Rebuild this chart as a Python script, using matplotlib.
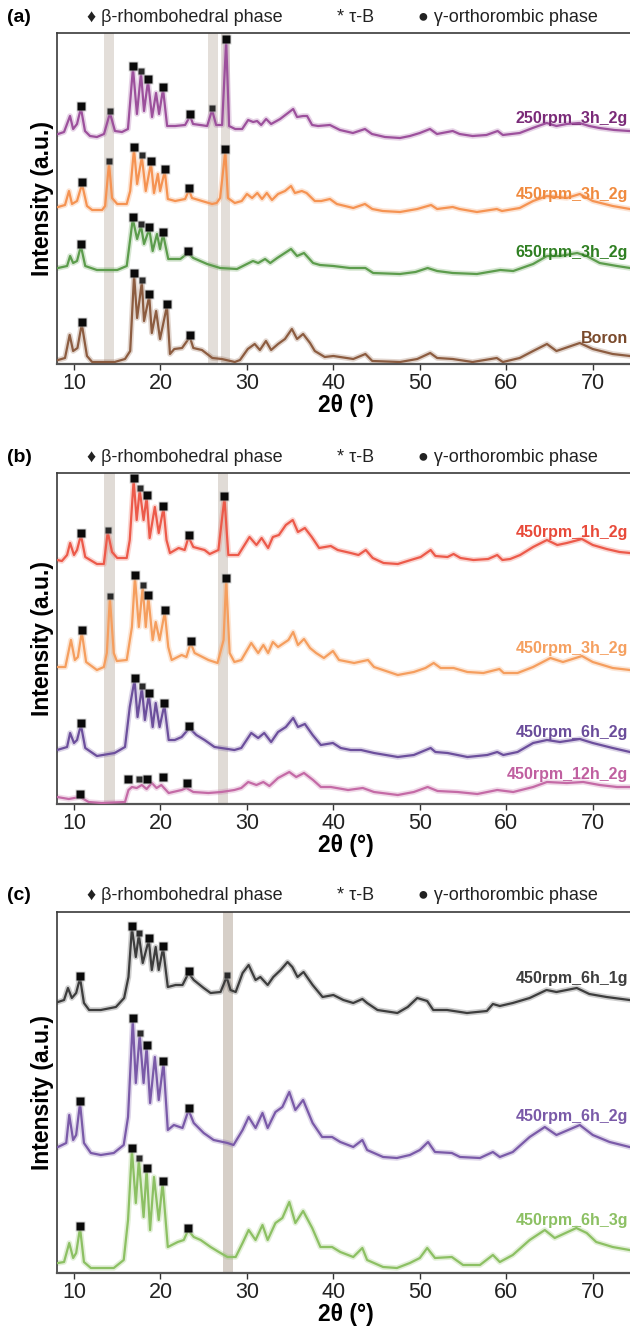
import numpy as np
import matplotlib.pyplot as plt

plt.rcParams['font.family'] = ['Liberation Sans', 'DejaVu Sans']

# ---- panel (a): milling speed series, (2theta, intensity) ----
a_250rpm = [(8.15, 4), (8.85, 6), (9.54, 22), (9.9, 9), (10.35, 14), (10.8, 30), (11.27, 7), (11.85, 2),
            (12.65, 1), (13.47, 4), (14.16, 25), (14.74, 7), (15.55, 6), (16.24, 9), (16.82, 70), (17.28, 24),
            (17.75, 65), (18.1, 27), (18.56, 57), (19.03, 21), (19.49, 45), (19.84, 24), (20.3, 49), (20.77, 12),
            (21.7, 12), (22.85, 13), (23.43, 22), (23.77, 14), (24.6, 13), (25.4, 12), (25.97, 28), (26.44, 13),
            (27.13, 13), (27.6, 97), (27.94, 12), (28.64, 9), (29.45, 9), (30.14, 18), (30.72, 16), (31.18, 17),
            (31.65, 13), (32.22, 19), (32.8, 14), (33.84, 19), (35.35, 29), (35.8, 21), (36.5, 22), (36.96, 22),
            (37.54, 13), (38.23, 12), (39.6, 13), (40.76, 8), (42.26, 5), (43.65, 9), (44.46, 4), (45.96, 1),
            (47.7, 0), (48.85, 2), (50.0, 5), (51.17, 9), (51.98, 4), (53.8, 7), (54.6, 4), (56.1, 2), (57.7, 3),
            (59.0, 7), (59.6, 3), (61.55, 5), (63.05, 10), (64.67, 15), (65.8, 12), (66.96, 14), (68.46, 15),
            (69.6, 12), (70.76, 10), (72.5, 8), (74.2, 7), (75, 7)]
a_450rpm = [(8.15, 6), (8.96, 8), (9.42, 22), (9.77, 9), (10.35, 12), (10.93, 29), (11.5, 7), (12.1, 3),
            (13.25, 3), (13.6, 7), (14.05, 50), (14.4, 15), (15.0, 9), (16.1, 9), (16.5, 22), (16.94, 64),
            (17.3, 29), (17.85, 56), (18.3, 22), (18.9, 50), (19.25, 20), (19.7, 39), (19.96, 22), (20.5, 42),
            (20.85, 14), (21.7, 12), (22.85, 14), (23.3, 23), (23.65, 15), (24.8, 12), (25.97, 9), (26.5, 10),
            (26.9, 15), (27.5, 62), (27.8, 15), (28.6, 10), (29.4, 12), (30.0, 19), (30.6, 15), (31.2, 20),
            (31.75, 14), (32.3, 20), (32.9, 13), (33.6, 19), (34.4, 22), (35.1, 27), (35.55, 20), (36.35, 22),
            (36.9, 20), (37.85, 12), (38.6, 12), (39.6, 14), (40.4, 9), (42.3, 5), (43.65, 9), (44.5, 4),
            (45.7, 2), (47.7, 1), (49.7, 4), (51.3, 8), (52.0, 4), (53.8, 6), (54.6, 4), (56.6, 1), (58.9, 4),
            (59.5, 2), (61.55, 5), (63.1, 12), (64.7, 17), (67.0, 15), (68.5, 19), (70.0, 12), (72.3, 7),
            (74.3, 4), (75, 4)]
a_650rpm = [(8.15, 6), (9.2, 8), (9.55, 18), (9.9, 11), (10.35, 13), (10.8, 28), (11.3, 8), (12.65, 4),
            (15.0, 4), (16.1, 8), (16.8, 55), (17.3, 35), (17.75, 48), (18.1, 30), (18.7, 45), (19.1, 23),
            (19.6, 40), (19.95, 25), (20.3, 40), (20.9, 15), (22.3, 15), (23.2, 21), (23.8, 16), (25.4, 10),
            (26.9, 6), (28.85, 5), (30.0, 10), (30.7, 13), (31.3, 11), (32.1, 15), (32.7, 11), (33.5, 16),
            (35.1, 25), (35.8, 18), (36.6, 21), (37.65, 11), (38.45, 9), (40.0, 8), (41.9, 6), (43.7, 6),
            (44.6, 1), (47.7, 0), (49.5, 2), (50.9, 6), (52.0, 3), (53.8, 1), (56.6, 0), (59.3, 4), (60.8, 3),
            (63.1, 10), (64.7, 18), (66.2, 18), (68.2, 21), (69.3, 18), (70.8, 11), (72.8, 8), (74.3, 6), (75, 6)]
a_boron = [(8.15, 2), (8.96, 4), (9.5, 27), (9.9, 11), (10.4, 14), (10.9, 38), (11.5, 6), (12.1, 0),
           (13.6, 0), (14.7, 0), (15.9, 3), (16.5, 11), (16.95, 87), (17.3, 44), (17.85, 80), (18.1, 41),
           (18.7, 66), (19.0, 29), (19.5, 51), (19.95, 23), (20.75, 56), (21.1, 8), (21.6, 13), (22.5, 14),
           (23.4, 25), (23.8, 14), (24.8, 12), (26.0, 4), (27.1, 3), (28.6, 0), (29.2, 2), (30.1, 13),
           (30.9, 18), (31.5, 12), (32.2, 21), (32.8, 12), (33.6, 18), (34.4, 23), (35.2, 33), (35.8, 23),
           (36.5, 28), (37.3, 19), (37.85, 11), (39.0, 5), (40.0, 6), (42.3, 3), (43.7, 8), (44.5, 1),
           (47.7, 0), (49.7, 3), (51.2, 9), (52.0, 4), (53.8, 3), (56.1, 0), (58.9, 4), (59.6, 0), (61.55, 4),
           (63.1, 11), (64.7, 18), (65.8, 11), (68.5, 19), (70.0, 13), (72.3, 8), (74.3, 6), (75, 6)]

# ---- panel (b): milling time series ----
b_1h = [(8.04, 4), (8.6, 3), (9.2, 9), (9.55, 21), (10.0, 9), (10.35, 14), (10.8, 29), (11.3, 7), (12.65, 0),
        (13.45, 0), (13.9, 32), (14.4, 12), (15.0, 6), (16.1, 6), (16.45, 24), (16.9, 84), (17.25, 44),
        (17.6, 74), (18.05, 44), (18.4, 67), (18.75, 26), (19.35, 57), (19.8, 31), (20.35, 56), (20.7, 24),
        (21.1, 11), (22.1, 16), (22.8, 14), (23.25, 27), (23.8, 17), (25.1, 14), (25.7, 10), (26.7, 14),
        (27.4, 66), (27.85, 9), (29.0, 9), (30.3, 27), (31.1, 19), (31.7, 26), (32.45, 16), (33.0, 27),
        (33.7, 29), (34.5, 39), (35.3, 44), (35.9, 32), (36.7, 36), (37.5, 27), (38.35, 16), (39.7, 18),
        (40.5, 14), (42.0, 11), (42.9, 9), (43.75, 14), (44.55, 6), (45.8, 1), (47.45, 0), (48.95, 4),
        (50.1, 7), (51.25, 14), (51.8, 8), (53.2, 7), (53.9, 10), (54.7, 6), (56.2, 4), (57.9, 5), (58.95, 9),
        (59.55, 4), (60.45, 5), (61.6, 9), (63.1, 17), (64.7, 24), (65.9, 19), (67.0, 21), (68.75, 25),
        (70.0, 19), (71.6, 15), (73.1, 12), (74.3, 11), (75, 11)]
b_3h = [(8.04, 8), (9.0, 8), (9.65, 35), (10.1, 15), (10.45, 18), (10.9, 43), (11.4, 13), (12.65, 5),
        (13.45, 8), (13.8, 22), (14.15, 77), (14.6, 22), (14.95, 14), (16.1, 15), (16.7, 48), (17.05, 98),
        (17.5, 48), (17.95, 88), (18.3, 48), (18.6, 78), (19.1, 35), (19.45, 53), (19.9, 35), (20.5, 63),
        (20.9, 28), (21.3, 15), (22.45, 20), (23.0, 18), (23.5, 32), (23.95, 22), (25.55, 15), (26.6, 12),
        (27.3, 35), (27.6, 95), (28.0, 22), (28.55, 13), (29.35, 15), (30.5, 32), (31.3, 22), (31.9, 30),
        (32.45, 22), (33.0, 33), (33.6, 28), (34.8, 35), (35.35, 43), (35.9, 30), (36.6, 36), (37.3, 27),
        (38.0, 22), (38.9, 17), (39.95, 24), (40.65, 15), (42.4, 12), (44.0, 15), (44.7, 8), (47.45, 0),
        (49.3, 3), (50.65, 7), (51.6, 12), (52.4, 7), (53.9, 7), (55.5, 3), (57.35, 2), (59.2, 6), (59.7, 2),
        (61.3, 2), (63.1, 8), (65.1, 17), (66.55, 13), (68.75, 19), (70.0, 13), (72.3, 7), (74.3, 5), (75, 5)]
b_6h = [(8.04, 7), (9.2, 10), (9.55, 24), (10.0, 14), (10.35, 17), (10.8, 32), (11.3, 9), (12.65, 1),
        (14.7, 4), (15.9, 10), (16.45, 50), (17.0, 77), (17.35, 40), (17.85, 69), (18.2, 37), (18.65, 62),
        (19.1, 30), (19.45, 54), (19.9, 30), (20.45, 52), (20.95, 17), (21.65, 17), (22.45, 20), (23.35, 29),
        (24.15, 22), (25.1, 17), (26.25, 10), (28.55, 7), (29.35, 9), (30.5, 24), (31.3, 19), (32.0, 24),
        (32.8, 15), (33.6, 25), (34.5, 30), (35.35, 39), (35.9, 30), (36.7, 33), (37.6, 22), (38.55, 12),
        (39.95, 14), (40.85, 9), (42.0, 7), (43.2, 7), (44.7, 4), (47.45, 0), (49.3, 2), (51.25, 9),
        (51.8, 5), (53.2, 4), (55.5, 0), (57.8, 2), (58.95, 5), (59.65, 2), (61.3, 5), (63.1, 14), (64.7, 17),
        (66.2, 15), (68.5, 18), (70.0, 14), (72.3, 9), (74.3, 5), (75, 5)]
b_12h = [(8.04, 6), (9.4, 4), (10.7, 6), (11.7, 1), (13.2, 0), (15.9, 1), (16.3, 13), (16.7, 16),
         (17.25, 15), (17.85, 18), (18.4, 14), (19.0, 20), (19.55, 15), (20.1, 18), (20.95, 10), (22.45, 13),
         (23.0, 15), (23.8, 11), (25.55, 10), (27.05, 11), (28.55, 13), (29.35, 15), (30.15, 21), (31.1, 18),
         (31.9, 21), (32.6, 17), (33.6, 25), (34.9, 31), (35.7, 26), (36.6, 30), (37.65, 23), (38.55, 16),
         (39.7, 16), (41.7, 13), (43.4, 15), (44.7, 11), (47.45, 8), (49.3, 11), (50.9, 16), (52.05, 12),
         (54.35, 11), (56.65, 9), (58.95, 13), (60.8, 11), (63.1, 16), (64.7, 21), (67.0, 20), (68.9, 21),
         (70.8, 18), (72.8, 16), (74.3, 16), (75, 16)]

# ---- panel (c): sample mass series ----
c_1g = [(8.15, 11), (8.85, 13), (9.3, 25), (9.75, 15), (10.25, 20), (10.7, 35), (11.15, 10), (11.75, 3),
        (13.1, 3), (14.85, 6), (15.8, 15), (16.3, 36), (16.7, 85), (17.15, 56), (17.5, 78), (17.95, 50),
        (18.65, 73), (19.0, 43), (19.45, 66), (19.8, 43), (20.3, 65), (20.85, 26), (21.75, 28), (22.55, 28),
        (23.25, 40), (23.85, 33), (25.0, 25), (25.8, 20), (26.95, 21), (27.65, 36), (28.1, 23), (28.7, 21),
        (29.5, 40), (30.2, 48), (31.0, 33), (31.55, 36), (32.4, 28), (33.05, 36), (33.9, 43), (34.7, 51),
        (35.25, 46), (35.85, 36), (36.55, 41), (37.6, 28), (38.75, 16), (40.0, 18), (41.15, 13), (42.3, 10),
        (43.35, 14), (43.9, 10), (45.1, 3), (47.4, 0), (48.6, 6), (49.7, 15), (50.85, 12), (51.55, 3),
        (53.15, 3), (55.45, 0), (57.75, 2), (58.45, 9), (59.25, 7), (60.75, 10), (62.7, 15), (64.65, 23),
        (65.8, 21), (68.15, 25), (69.6, 19), (71.6, 16), (74.25, 13), (75, 13)]
c_2g = [(8.15, 11), (9.1, 15), (9.45, 43), (9.9, 18), (10.25, 23), (10.7, 55), (11.15, 15), (11.95, 5),
        (13.1, 3), (14.6, 5), (15.75, 13), (16.25, 41), (16.8, 138), (17.15, 75), (17.6, 123), (18.05, 75),
        (18.4, 111), (18.8, 55), (19.35, 101), (19.8, 58), (20.35, 95), (20.85, 28), (21.55, 33), (22.55, 30),
        (23.25, 48), (23.85, 35), (25.0, 25), (26.15, 18), (27.75, 15), (28.45, 13), (29.5, 28), (30.2, 41),
        (31.0, 30), (31.8, 45), (32.4, 30), (33.3, 46), (34.1, 51), (34.9, 66), (35.6, 48), (36.5, 58),
        (37.6, 35), (38.7, 21), (39.85, 21), (40.8, 16), (42.3, 11), (43.35, 18), (43.9, 8), (45.75, 1),
        (47.35, 0), (48.85, 3), (50.0, 8), (50.95, 16), (51.75, 6), (53.7, 5), (54.65, 1), (56.95, 0),
        (58.45, 6), (59.25, 1), (60.75, 6), (62.7, 21), (64.45, 31), (65.8, 23), (68.5, 33), (70.0, 23),
        (71.95, 16), (74.25, 11), (75, 11)]
c_3g = [(8.15, 5), (8.85, 6), (9.45, 25), (9.9, 10), (10.25, 15), (10.7, 40), (11.15, 6), (11.95, 0),
        (13.1, 0), (14.6, 0), (15.75, 8), (16.25, 48), (16.7, 118), (17.15, 65), (17.5, 108), (18.05, 51),
        (18.4, 98), (18.8, 38), (19.25, 91), (19.8, 48), (20.25, 85), (20.85, 21), (22.0, 26), (22.7, 28),
        (23.2, 38), (23.85, 31), (24.65, 28), (25.8, 21), (26.75, 16), (27.75, 11), (28.7, 11), (29.5, 25),
        (30.2, 38), (31.0, 28), (31.8, 43), (32.4, 28), (33.3, 45), (34.1, 50), (34.9, 66), (35.6, 45),
        (36.5, 57), (37.55, 40), (38.5, 21), (39.85, 21), (40.8, 16), (42.3, 11), (43.35, 20), (43.9, 8),
        (45.75, 1), (47.35, 0), (48.85, 5), (50.0, 10), (50.85, 20), (51.75, 10), (53.7, 11), (55.0, 3),
        (56.95, 3), (58.45, 13), (59.25, 6), (60.75, 13), (62.7, 28), (64.45, 38), (65.6, 30), (68.1, 40),
        (69.3, 35), (70.4, 26), (72.3, 21), (74.25, 18), (75, 18)]

# phase markers: main peaks and smaller tau-B peaks (2theta, intensity)
mk_a_250 = [(10.8, 30), (16.82, 70), (18.56, 57), (20.3, 49), (23.43, 22), (27.6, 97)]
sm_a_250 = [(14.16, 25), (17.75, 65), (25.97, 28)]
mk_a_450 = [(10.93, 29), (16.94, 64), (18.9, 50), (20.5, 42), (23.3, 23), (27.5, 62)]
sm_a_450 = [(14.05, 50), (17.85, 56)]
mk_a_650 = [(10.8, 28), (16.8, 55), (18.7, 45), (20.3, 40), (23.2, 21)]
sm_a_650 = [(17.75, 48)]
mk_a_boron = [(10.9, 38), (16.95, 87), (18.7, 66), (20.75, 56), (23.4, 25)]
sm_a_boron = [(17.85, 80)]
mk_b_1h = [(10.8, 29), (16.9, 84), (18.4, 67), (20.35, 56), (23.25, 27), (27.4, 66)]
sm_b_1h = [(13.9, 32), (17.6, 74)]
mk_b_3h = [(10.9, 43), (17.05, 98), (18.6, 78), (20.5, 63), (23.5, 32), (27.6, 95)]
sm_b_3h = [(14.15, 77), (17.95, 88)]
mk_b_6h = [(10.8, 32), (17.0, 77), (18.65, 62), (20.45, 52), (23.35, 29)]
sm_b_6h = [(17.85, 69)]
mk_b_12h = [(10.7, 7), (16.2, 22), (18.5, 22), (20.25, 24), (23.1, 18)]
sm_b_12h = [(17.5, 22)]
mk_c_1g = [(10.7, 35), (16.7, 85), (18.65, 73), (20.3, 65), (23.25, 40)]
sm_c_1g = [(17.5, 78), (27.65, 36)]
mk_c_2g = [(10.7, 55), (16.8, 138), (18.4, 111), (20.35, 95), (23.25, 48)]
sm_c_2g = [(17.6, 123)]
mk_c_3g = [(10.7, 40), (16.7, 118), (18.4, 98), (20.25, 85), (23.2, 38)]
sm_c_3g = [(17.5, 108)]

# shaded 2theta ranges
bands_a = [(13.5, 14.6), (25.5, 26.6), (27.0, 28.1)]
bands_b = [(13.45, 14.7), (26.7, 27.85)]
bands_c = [(27.2, 28.4)]

W, H = 630, 1329
fig = plt.figure(figsize=(W / 100, H / 100), dpi=100)


def make_panel(top, bottom, tag, bands, band_color):
    ax = fig.add_axes([56.7 / W, 1 - bottom / H, (636 - 56.7) / W, (bottom - top) / H])
    ax.set_xlim(8, 75)
    ax.set_ylim(0, bottom - top)
    for lo, hi in bands:
        ax.axvspan(lo, hi, color=band_color, lw=0, zorder=0)
    ax.spines['right'].set_visible(False)
    for s in ['left', 'top']:
        ax.spines[s].set_color('#3a3a3a')
        ax.spines[s].set_linewidth(1.2)
    ax.spines['bottom'].set_color('#555555')
    ax.spines['bottom'].set_linewidth(1.6)
    ax.set_yticks([])
    ax.set_xticks(range(10, 71, 10))
    ax.tick_params(axis='x', direction='out', length=4.5, width=1, color='#333333',
                   labelsize=15.5, labelcolor='#222222', pad=2)
    ax.set_xlabel('2θ (°)', fontsize=16.5, fontweight='bold', labelpad=0)
    ax.set_ylabel('Intensity (a.u.)', fontsize=16.5, fontweight='bold', labelpad=2)
    # header: panel tag and phase key
    yh = 1 - (top - 16) / H
    fig.text(7 / W, yh, tag, fontsize=14, fontweight='bold', va='center')
    fig.text(87 / W, yh, '♦ β-rhombohedral phase', fontsize=13, va='center', color='#222222')
    fig.text(337 / W, yh, '* τ-B', fontsize=13, va='center', color='#222222')
    fig.text(418 / W, yh, '● γ-orthorombic phase', fontsize=13, va='center', color='#222222')
    return ax


def draw_curve(ax, pts, offset, color, main, small, label, label_y, label_color):
    x, y = np.array(pts, dtype=float).T
    y = y + offset
    ax.plot(x, y, color=color, lw=4.0, alpha=0.25, solid_joinstyle='round', zorder=2)
    ax.plot(x, y, color=color, lw=1.6, solid_joinstyle='round', zorder=3)
    if main:
        mx, my = np.array(main, dtype=float).T
        ax.plot(mx, my + offset + 2, 's', ms=7.5, color='#b0b0b0', alpha=0.5, mec='none', zorder=4)
        ax.plot(mx, my + offset + 2, 's', ms=5.5, color='#0a0a0a', mec='none', zorder=5)
    if small:
        sx, sy = np.array(small, dtype=float).T
        ax.plot(sx, sy + offset + 2, 's', ms=6, color='#b0b0b0', alpha=0.5, mec='none', zorder=4)
        ax.plot(sx, sy + offset + 2, 's', ms=4, color='#2a2a2a', mec='none', zorder=5)
    ax.text(74.1, label_y, label, ha='right', va='center', fontsize=11.5,
            fontweight='bold', color=label_color, zorder=6)


# panel (a)
ax_a = make_panel(33, 364, '(a)', bands_a, '#e3ded9')
draw_curve(ax_a, a_250rpm, 226, '#9c509c', mk_a_250, sm_a_250, '250rpm_3h_2g', 246, '#7a2a78')
draw_curve(ax_a, a_450rpm, 151, '#f59352', mk_a_450, sm_a_450, '450rpm_3h_2g', 169, '#f08a3e')
draw_curve(ax_a, a_650rpm, 90, '#5c9c4c', mk_a_650, sm_a_650, '650rpm_3h_2g', 112, '#2f7f22')
draw_curve(ax_a, a_boron, 2, '#8c5c40', mk_a_boron, sm_a_boron, 'Boron', 25, '#7a4a2c')

# panel (b)
ax_b = make_panel(473, 804, '(b)', bands_b, '#e0dbd6')
draw_curve(ax_b, b_1h, 240, '#ec5a4a', mk_b_1h, sm_b_1h, '450rpm_1h_2g', 272, '#e84a3a')
draw_curve(ax_b, b_3h, 129, '#f59e5e', mk_b_3h, sm_b_3h, '450rpm_3h_2g', 156, '#f5a060')
draw_curve(ax_b, b_6h, 47, '#6c4f9c', mk_b_6h, sm_b_6h, '450rpm_6h_2g', 72, '#6a4c9a')
draw_curve(ax_b, b_12h, 1, '#c46aa6', mk_b_12h, sm_b_12h, '450rpm_12h_2g', 30, '#c060a0')

# panel (c)
ax_c = make_panel(912, 1273, '(c)', bands_c, '#d6cfc8')
draw_curve(ax_c, c_1g, 260, '#3d3d3d', mk_c_1g, sm_c_1g, '450rpm_6h_1g', 294, '#3d3d3d')
draw_curve(ax_c, c_2g, 115, '#7a5aa8', mk_c_2g, sm_c_2g, '450rpm_6h_2g', 156, '#7a5aa8')
draw_curve(ax_c, c_3g, 5, '#8cc063', mk_c_3g, sm_c_3g, '450rpm_6h_3g', 52, '#8cc063')

fig.savefig('out.png', dpi=100)
